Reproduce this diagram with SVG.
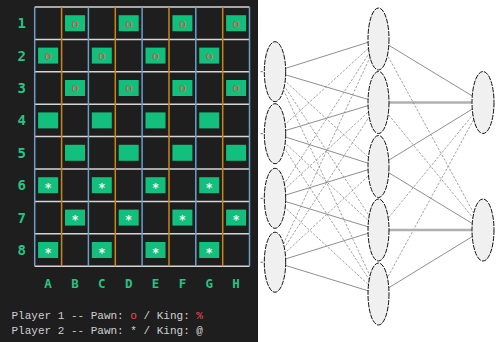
<svg xmlns="http://www.w3.org/2000/svg" width="496" height="342" viewBox="0 0 496 342">
  <style>
    .hl { stroke: #d6d6d6; stroke-width: 1.5; }
    .vb { stroke: #6c9fc8; stroke-width: 1.5; }
    .vo { stroke: #c8861a; stroke-width: 1.5; }
    .sq { fill: #12bf7c; }
    .lbl { font-family: "DejaVu Sans Mono", "Liberation Mono", monospace; fill: #27c484; text-anchor: middle; font-weight: bold; }
    .row { font-size: 14px; }
    .col { font-size: 12.5px; }
    .p1 { font-family: "DejaVu Sans Mono", "Liberation Mono", monospace; font-size: 12.5px; fill: #f14c4c; text-anchor: middle; }
    .p2 { font-family: "DejaVu Sans Mono", "Liberation Mono", monospace; font-size: 12px; font-weight: bold; fill: #f4f4f4; text-anchor: middle; }
    .legend { font-family: "Liberation Mono", monospace; font-size: 11px; fill: #d0d0d0; }
    .red { fill: #f14c4c; }
    .neuron { fill: #f0f0f0; stroke: #111; stroke-width: 1; stroke-dasharray: 5 1.2; }
    .w { stroke: #8f8f8f; stroke-width: 1; fill: none; }
    .wd { stroke: #8a8a8a; stroke-width: 0.8; stroke-dasharray: 2.5 1.5; fill: none; }
    .wt { stroke: #b0b0b0; stroke-width: 2.5; fill: none; }
    .tick { stroke: #777; stroke-width: 1; }
  </style>

  <!-- terminal panel -->
  <rect x="0" y="0" width="258" height="342" fill="#1e1e1e"/>
  <rect x="258" y="0" width="238" height="342" fill="#ffffff"/>

  <!-- board grid -->
  <g id="board-grid">
    <line class="hl" x1="34.7" y1="7" x2="249.5" y2="7"/>
    <line class="hl" x1="34.7" y1="39.4" x2="249.5" y2="39.4"/>
    <line class="hl" x1="34.7" y1="71.8" x2="249.5" y2="71.8"/>
    <line class="hl" x1="34.7" y1="104.2" x2="249.5" y2="104.2"/>
    <line class="hl" x1="34.7" y1="136.6" x2="249.5" y2="136.6"/>
    <line class="hl" x1="34.7" y1="169" x2="249.5" y2="169"/>
    <line class="hl" x1="34.7" y1="201.4" x2="249.5" y2="201.4"/>
    <line class="hl" x1="34.7" y1="233.8" x2="249.5" y2="233.8"/>
    <line class="hl" x1="34.7" y1="266.2" x2="249.5" y2="266.2"/>
    <line class="vb" x1="34.7" y1="7" x2="34.7" y2="266.2"/>
    <line class="vo" x1="61.6" y1="7" x2="61.6" y2="266.2"/>
    <line class="vb" x1="88.4" y1="7" x2="88.4" y2="266.2"/>
    <line class="vo" x1="115.3" y1="7" x2="115.3" y2="266.2"/>
    <line class="vb" x1="142.1" y1="7" x2="142.1" y2="266.2"/>
    <line class="vo" x1="169" y1="7" x2="169" y2="266.2"/>
    <line class="vb" x1="195.8" y1="7" x2="195.8" y2="266.2"/>
    <line class="vo" x1="222.7" y1="7" x2="222.7" y2="266.2"/>
    <line class="vb" x1="249.5" y1="7" x2="249.5" y2="266.2"/>
  </g>

  <!-- squares: cell centres x = 48.1 + 26.85*c, y = 23.2 + 32.4*r -->
  <g id="board-squares">
    <!-- row 1 -->
    <rect class="sq" x="65" y="15.2" width="20" height="16"/>
    <rect class="sq" x="118.7" y="15.2" width="20" height="16"/>
    <rect class="sq" x="172.4" y="15.2" width="20" height="16"/>
    <rect class="sq" x="226.1" y="15.2" width="20" height="16"/>
    <!-- row 2 -->
    <rect class="sq" x="38.1" y="47.6" width="20" height="16"/>
    <rect class="sq" x="91.8" y="47.6" width="20" height="16"/>
    <rect class="sq" x="145.5" y="47.6" width="20" height="16"/>
    <rect class="sq" x="199.2" y="47.6" width="20" height="16"/>
    <!-- row 3 -->
    <rect class="sq" x="65" y="80" width="20" height="16"/>
    <rect class="sq" x="118.7" y="80" width="20" height="16"/>
    <rect class="sq" x="172.4" y="80" width="20" height="16"/>
    <rect class="sq" x="226.1" y="80" width="20" height="16"/>
    <!-- row 4 -->
    <rect class="sq" x="38.1" y="112.4" width="20" height="16"/>
    <rect class="sq" x="91.8" y="112.4" width="20" height="16"/>
    <rect class="sq" x="145.5" y="112.4" width="20" height="16"/>
    <rect class="sq" x="199.2" y="112.4" width="20" height="16"/>
    <!-- row 5 -->
    <rect class="sq" x="65" y="144.8" width="20" height="16"/>
    <rect class="sq" x="118.7" y="144.8" width="20" height="16"/>
    <rect class="sq" x="172.4" y="144.8" width="20" height="16"/>
    <rect class="sq" x="226.1" y="144.8" width="20" height="16"/>
    <!-- row 6 -->
    <rect class="sq" x="38.1" y="177.2" width="20" height="16"/>
    <rect class="sq" x="91.8" y="177.2" width="20" height="16"/>
    <rect class="sq" x="145.5" y="177.2" width="20" height="16"/>
    <rect class="sq" x="199.2" y="177.2" width="20" height="16"/>
    <!-- row 7 -->
    <rect class="sq" x="65" y="209.6" width="20" height="16"/>
    <rect class="sq" x="118.7" y="209.6" width="20" height="16"/>
    <rect class="sq" x="172.4" y="209.6" width="20" height="16"/>
    <rect class="sq" x="226.1" y="209.6" width="20" height="16"/>
    <!-- row 8 -->
    <rect class="sq" x="38.1" y="242" width="20" height="16"/>
    <rect class="sq" x="91.8" y="242" width="20" height="16"/>
    <rect class="sq" x="145.5" y="242" width="20" height="16"/>
    <rect class="sq" x="199.2" y="242" width="20" height="16"/>
  </g>

  <!-- player 1 pawns -->
  <g id="player1-pieces">
    <text class="p1" x="75" y="27.5">o</text>
    <text class="p1" x="128.7" y="27.5">o</text>
    <text class="p1" x="182.4" y="27.5">o</text>
    <text class="p1" x="236.1" y="27.5">o</text>
    <text class="p1" x="48.1" y="59.9">o</text>
    <text class="p1" x="101.8" y="59.9">o</text>
    <text class="p1" x="155.5" y="59.9">o</text>
    <text class="p1" x="209.2" y="59.9">o</text>
    <text class="p1" x="75" y="92.3">o</text>
    <text class="p1" x="128.7" y="92.3">o</text>
    <text class="p1" x="182.4" y="92.3">o</text>
    <text class="p1" x="236.1" y="92.3">o</text>
  </g>

  <!-- player 2 pawns -->
  <g id="player2-pieces">
    <text class="p2" x="48.1" y="192">*</text>
    <text class="p2" x="101.8" y="192">*</text>
    <text class="p2" x="155.5" y="192">*</text>
    <text class="p2" x="209.2" y="192">*</text>
    <text class="p2" x="75" y="224.4">*</text>
    <text class="p2" x="128.7" y="224.4">*</text>
    <text class="p2" x="182.4" y="224.4">*</text>
    <text class="p2" x="236.1" y="224.4">*</text>
    <text class="p2" x="48.1" y="256.8">*</text>
    <text class="p2" x="101.8" y="256.8">*</text>
    <text class="p2" x="155.5" y="256.8">*</text>
    <text class="p2" x="209.2" y="256.8">*</text>
  </g>

  <!-- coordinates -->
  <g id="row-labels" class="lbl row">
    <text x="21.7" y="28.2">1</text>
    <text x="21.7" y="60.6">2</text>
    <text x="21.7" y="93">3</text>
    <text x="21.7" y="125.4">4</text>
    <text x="21.7" y="157.8">5</text>
    <text x="21.7" y="190.2">6</text>
    <text x="21.7" y="222.6">7</text>
    <text x="21.7" y="255">8</text>
  </g>
  <g id="col-labels" class="lbl col">
    <text x="48.1" y="287.5">A</text>
    <text x="75" y="287.5">B</text>
    <text x="101.8" y="287.5">C</text>
    <text x="128.7" y="287.5">D</text>
    <text x="155.5" y="287.5">E</text>
    <text x="182.4" y="287.5">F</text>
    <text x="209.2" y="287.5">G</text>
    <text x="236.1" y="287.5">H</text>
  </g>

  <!-- legend -->
  <g id="legend" class="legend">
    <text x="11.5" y="318.5">Player 1 -- Pawn: <tspan class="red">o</tspan> / King: <tspan class="red">%</tspan></text>
    <text x="11.5" y="333.5">Player 2 -- Pawn: * / King: @</text>
  </g>

  <!-- network connections -->
  <g id="connections">
    <!-- input 1 (275,71.7) -->
    <line class="w" x1="275" y1="71.7" x2="378.5" y2="39"/>
    <line class="w" x1="275" y1="71.7" x2="378.5" y2="102.5"/>
    <line class="wd" x1="275" y1="71.7" x2="378.5" y2="166.5"/>
    <line class="wd" x1="275" y1="71.7" x2="378.5" y2="230"/>
    <line class="wd" x1="275" y1="71.7" x2="378.5" y2="294"/>
    <!-- input 2 (275,133.7) -->
    <line class="wd" x1="275" y1="133.7" x2="378.5" y2="39"/>
    <line class="w" x1="275" y1="133.7" x2="378.5" y2="102.5"/>
    <line class="w" x1="275" y1="133.7" x2="378.5" y2="166.5"/>
    <line class="wd" x1="275" y1="133.7" x2="378.5" y2="230"/>
    <line class="wd" x1="275" y1="133.7" x2="378.5" y2="294"/>
    <!-- input 3 (275,198.3) -->
    <line class="wd" x1="275" y1="198.3" x2="378.5" y2="39"/>
    <line class="wd" x1="275" y1="198.3" x2="378.5" y2="102.5"/>
    <line class="w" x1="275" y1="198.3" x2="378.5" y2="166.5"/>
    <line class="w" x1="275" y1="198.3" x2="378.5" y2="230"/>
    <line class="wd" x1="275" y1="198.3" x2="378.5" y2="294"/>
    <!-- input 4 (275,262.2) -->
    <line class="wd" x1="275" y1="262.2" x2="378.5" y2="39"/>
    <line class="wd" x1="275" y1="262.2" x2="378.5" y2="102.5"/>
    <line class="wd" x1="275" y1="262.2" x2="378.5" y2="166.5"/>
    <line class="w" x1="275" y1="262.2" x2="378.5" y2="230"/>
    <line class="w" x1="275" y1="262.2" x2="378.5" y2="294"/>
    <!-- hidden to output 1 (483,102.5) -->
    <line class="w" x1="378.5" y1="39" x2="483" y2="102.5"/>
    <line class="wt" x1="378.5" y1="102.5" x2="483" y2="102.5"/>
    <line class="w" x1="378.5" y1="166.5" x2="483" y2="102.5"/>
    <line class="wd" x1="378.5" y1="230" x2="483" y2="102.5"/>
    <line class="wd" x1="378.5" y1="294" x2="483" y2="102.5"/>
    <!-- hidden to output 2 (483,230) -->
    <line class="wd" x1="378.5" y1="39" x2="483" y2="230"/>
    <line class="wd" x1="378.5" y1="102.5" x2="483" y2="230"/>
    <line class="w" x1="378.5" y1="166.5" x2="483" y2="230"/>
    <line class="wt" x1="378.5" y1="230" x2="483" y2="230"/>
    <line class="w" x1="378.5" y1="294" x2="483" y2="230"/>
    <!-- input stubs -->
    <line class="tick" x1="260.5" y1="71.7" x2="263" y2="71.7"/>
    <line class="tick" x1="260.5" y1="133.7" x2="263" y2="133.7"/>
    <line class="tick" x1="260.5" y1="198.3" x2="263" y2="198.3"/>
    <line class="tick" x1="260.5" y1="262.2" x2="263" y2="262.2"/>
  </g>

  <!-- input layer -->
  <g id="input-1"><ellipse class="neuron" cx="275" cy="71.7" rx="10.7" ry="30"/></g>
  <g id="input-2"><ellipse class="neuron" cx="275" cy="133.7" rx="10.7" ry="30"/></g>
  <g id="input-3"><ellipse class="neuron" cx="275" cy="198.3" rx="10.7" ry="30"/></g>
  <g id="input-4"><ellipse class="neuron" cx="275" cy="262.2" rx="10.7" ry="30"/></g>

  <!-- hidden layer -->
  <g id="hidden-1"><ellipse class="neuron" cx="378.5" cy="39" rx="10.5" ry="31"/></g>
  <g id="hidden-2"><ellipse class="neuron" cx="378.5" cy="102.5" rx="10.5" ry="31"/></g>
  <g id="hidden-3"><ellipse class="neuron" cx="378.5" cy="166.5" rx="10.5" ry="31"/></g>
  <g id="hidden-4"><ellipse class="neuron" cx="378.5" cy="230" rx="10.5" ry="31"/></g>
  <g id="hidden-5"><ellipse class="neuron" cx="378.5" cy="294" rx="10.5" ry="31"/></g>

  <!-- output layer -->
  <g id="output-1"><ellipse class="neuron" cx="483" cy="102.5" rx="11" ry="31"/></g>
  <g id="output-2"><ellipse class="neuron" cx="483" cy="230" rx="11" ry="31"/></g>
</svg>
